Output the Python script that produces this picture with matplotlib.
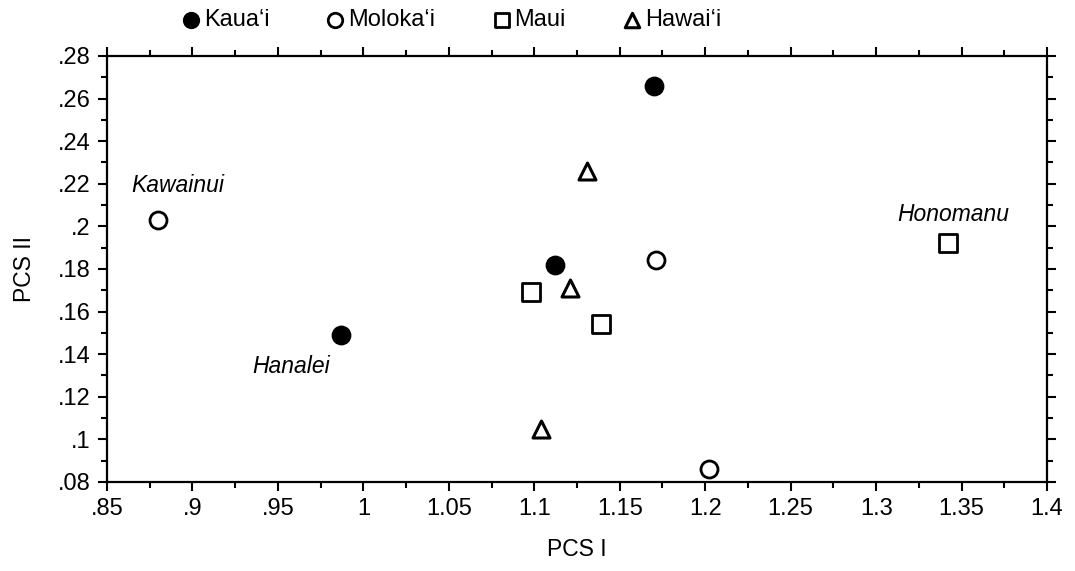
import matplotlib.pyplot as plt
from matplotlib.ticker import MultipleLocator, FuncFormatter

plt.rcParams['font.family'] = ['Liberation Sans', 'DejaVu Sans']

# --- data (PCS I, PCS II) ---
kauai_x = [0.987, 1.112, 1.170]
kauai_y = [0.149, 0.182, 0.266]
molokai_x = [0.880, 1.171, 1.202]
molokai_y = [0.203, 0.184, 0.086]
maui_x = [1.098, 1.139, 1.342]
maui_y = [0.169, 0.154, 0.192]
hawaii_x = [1.131, 1.121, 1.104]
hawaii_y = [0.226, 0.171, 0.105]

site_names = ['Kawainui', 'Hanalei', 'Honomanu']
site_x = [molokai_x[0], kauai_x[0], maui_x[2]]
site_y = [molokai_y[0], kauai_y[0], maui_y[2]]
site_offsets = [(14, 25), (-36, -23), (4, 21)]  # points

fig = plt.figure(figsize=(10.75, 5.71), dpi=100)
ax = fig.add_axes([0.0995, 0.156, 0.8745, 0.746])

mk = dict(s=150, linewidths=2.0, edgecolors='black', zorder=3)
h1 = ax.scatter(kauai_x, kauai_y, marker='o', facecolors='black', label='Kaua\u2018i', **mk)
h2 = ax.scatter(molokai_x, molokai_y, marker='o', facecolors='white', label='Moloka\u2018i', **mk)
h3 = ax.scatter(maui_x, maui_y, marker='s', facecolors='white', label='Maui', **mk)
h4 = ax.scatter(hawaii_x, hawaii_y, marker='^', facecolors='white', label='Hawai\u2018i',
                s=150, linewidths=2.2, edgecolors='black', zorder=3)

for name, x, y, off in zip(site_names, site_x, site_y, site_offsets):
    ax.annotate(name, (x, y), xytext=off, textcoords='offset points',
                ha='center', va='center', fontsize=16.5, style='italic')

ax.set_xlim(0.85, 1.4)
ax.set_ylim(0.08, 0.28)
ax.xaxis.set_major_locator(MultipleLocator(0.05))
ax.xaxis.set_minor_locator(MultipleLocator(0.025))
ax.yaxis.set_major_locator(MultipleLocator(0.02))
ax.yaxis.set_minor_locator(MultipleLocator(0.01))

def fmt(v, pos):
    s = f"{v:g}"
    return s[1:] if s.startswith('0') else s

ax.xaxis.set_major_formatter(FuncFormatter(fmt))
ax.yaxis.set_major_formatter(FuncFormatter(fmt))

ax.tick_params(which='both', direction='out', top=True, right=True, width=1.5)
ax.tick_params(which='major', length=6.5, labelsize=17)
ax.tick_params(axis='x', which='major', pad=5)
ax.tick_params(axis='y', which='major', pad=5)
ax.tick_params(which='minor', length=4)
for sp in ax.spines.values():
    sp.set_linewidth(1.6)

ax.set_xlabel('PCS I', fontsize=16.5, labelpad=13)
ax.set_ylabel('PCS II', fontsize=16.5, labelpad=16)

ax.legend(handles=[h1, h2, h3, h4], loc='lower center', bbox_to_anchor=(0.365, 1.02),
          ncol=4, frameon=False, fontsize=17, handletextpad=0.05, columnspacing=2.3,
          handlelength=1.0, borderaxespad=0.3, markerscale=0.85)

fig.savefig('out.png', dpi=100)
